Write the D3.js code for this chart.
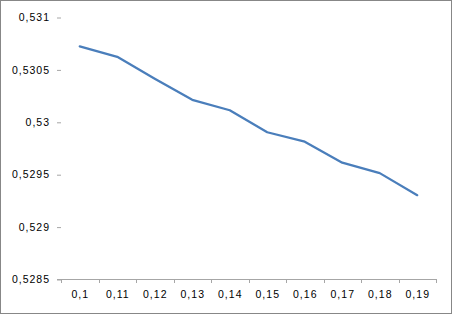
<!DOCTYPE html>
<html>
<head>
<meta charset="utf-8">
<script src="https://cdn.jsdelivr.net/npm/d3@7"></script>
<style>
  body { margin: 0; background: #fff; }
  svg { display: block; }
  .lbl { font-family: "Liberation Sans", Arial, sans-serif; font-size: 10.5px; letter-spacing: 1px; fill: #000; }
</style>
</head>
<body>
<svg id="chart" width="452" height="314"></svg>
<script>
// categories on the x axis
var categories = ["0,1", "0,11", "0,12", "0,13", "0,14", "0,15", "0,16", "0,17", "0,18", "0,19"];
// series values
var values = [0.53072, 0.53062, 0.53041, 0.53021, 0.53011, 0.52990, 0.52981, 0.52961, 0.52951, 0.52930];
// y tick values
var yTicks = [0.5285, 0.529, 0.5295, 0.53, 0.5305, 0.531];

var svg = d3.select("#chart");

var comma = d3.formatLocale({ decimal: ",", thousands: " ", grouping: [3], currency: ["", ""] });
var fmt = comma.format("~g");

var x = d3.scaleBand().domain(categories).range([61, 436]).padding(0);
var y = d3.scaleLinear().domain([0.5285, 0.531]).range([279, 17]);

// outer frame
svg.append("rect")
    .attr("x", 0.5).attr("y", 0.5)
    .attr("width", 451).attr("height", 313)
    .attr("fill", "none")
    .attr("stroke", "#878787");

// y axis: ticks and labels, no line
var yAxis = svg.append("g")
    .attr("transform", "translate(61,0)")
    .call(d3.axisLeft(y).tickValues(yTicks).tickSize(4).tickFormat(fmt));
yAxis.select(".domain").remove();
yAxis.selectAll("line").attr("stroke", "#a6a6a6").attr("transform", "translate(0,0.5)");
yAxis.selectAll("text")
    .attr("class", "lbl")
    .attr("x", -11)
    .attr("dy", "0.35em");
yAxis.attr("font-family", null).attr("font-size", null);

// x axis line
svg.append("line")
    .attr("x1", 57).attr("x2", 436)
    .attr("y1", 279.5).attr("y2", 279.5)
    .attr("stroke", "#a6a6a6");

// x ticks between categories
var bounds = categories.map(function(c) { return x(c); }).concat([x.range()[1]]);
svg.append("g").selectAll("line")
    .data(bounds)
    .enter().append("line")
    .attr("x1", function(d) { return Math.round(d) + 0.5; })
    .attr("x2", function(d) { return Math.round(d) + 0.5; })
    .attr("y1", 279).attr("y2", 283)
    .attr("stroke", "#a6a6a6");

// x labels
svg.append("g").selectAll("text")
    .data(categories)
    .enter().append("text")
    .attr("class", "lbl")
    .attr("x", function(d) { return x(d) + x.bandwidth() / 2 + 0.5; })
    .attr("y", 297.5)
    .attr("text-anchor", "middle")
    .text(function(d) { return d; });

// the line
var line = d3.line()
    .x(function(d, i) { return x(categories[i]) + x.bandwidth() / 2; })
    .y(function(d) { return y(d); });

svg.append("path")
    .datum(values)
    .attr("d", line)
    .attr("fill", "none")
    .attr("stroke", "#4a7ebb")
    .attr("stroke-width", 2.25)
    .attr("stroke-linejoin", "round")
    .attr("stroke-linecap", "round");
</script>
</body>
</html>
